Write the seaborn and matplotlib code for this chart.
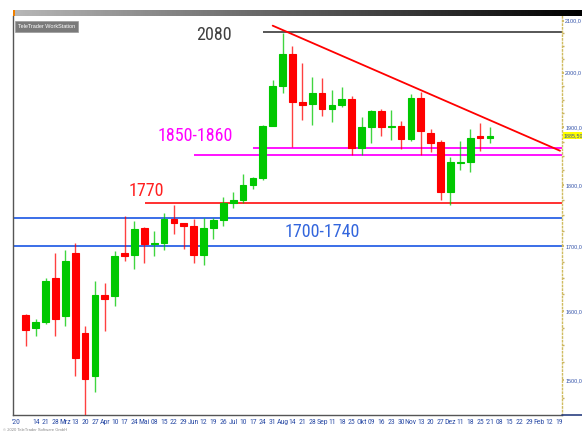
import numpy as np
import pandas as pd
import matplotlib
matplotlib.use("Agg")
import matplotlib.pyplot as plt
import matplotlib.ticker as mticker
import matplotlib.transforms as mtransforms
from matplotlib import font_manager
import seaborn as sns

# ---------------- data ----------------
week_idx = list(range(1, 49))
opens = [1594, 1574, 1584, 1650, 1593, 1690, 1567, 1505, 1624, 1622,
         1689, 1686, 1730, 1703, 1705, 1744, 1737, 1732, 1686, 1730,
         1743, 1771, 1775, 1801, 1812, 1903, 1976, 2035, 1946, 1943,
         1962, 1934, 1941, 1951, 1864, 1900, 1930, 1900, 1903, 1879,
         1953, 1890, 1875, 1789, 1838, 1840, 1885, 1882]
highs = [1595, 1588, 1650, 1690, 1694, 1705, 1577, 1646, 1642, 1692,
         1749, 1741, 1731, 1724, 1754, 1767, 1738, 1744, 1745, 1746,
         1780, 1789, 1819, 1814, 1904, 1986, 2076, 2051, 2018, 1992,
         1990, 1968, 1974, 1957, 1918, 1932, 1933, 1932, 1912, 1961,
         1965, 1897, 1878, 1849, 1876, 1897, 1908, 1900]
lows = [1549, 1563, 1580, 1563, 1577, 1506, 1452, 1483, 1571, 1607,
        1676, 1664, 1673, 1684, 1694, 1719, 1695, 1673, 1671, 1711,
        1732, 1762, 1771, 1793, 1809, 1902, 1963, 1865, 1914, 1904,
        1920, 1910, 1936, 1852, 1852, 1873, 1884, 1877, 1862, 1876,
        1852, 1856, 1776, 1767, 1825, 1822, 1859, 1872]
closes = [1572, 1584, 1645, 1588, 1676, 1531, 1501, 1624, 1618, 1684,
          1684, 1727, 1703, 1705, 1744, 1737, 1733, 1686, 1730, 1743,
          1771, 1775, 1801, 1812, 1903, 1976, 2035, 1946, 1941, 1962,
          1934, 1941, 1951, 1864, 1900, 1930, 1900, 1903, 1880, 1953,
          1893, 1873, 1789, 1840, 1840, 1881, 1881, 1885.5]

tick_labels = ["'20", "", "14", "21", "28", "Mrz", "13", "20", "27", "Apr",
               "10", "17", "24", "Mai", "08", "15", "22", "29", "Jun", "12",
               "19", "26", "Jul", "10", "17", "24", "31", "Aug", "14", "21",
               "28", "Sep", "11", "18", "25", "Okt", "09", "16", "23", "30",
               "Nov", "13", "20", "27", "Dez", "11", "18", "25", "'21", "08",
               "15", "22", "29", "Feb", "12", "19"]
price_ticks = [1500, 1600, 1700, 1800, 1900, 2000, 2100]

# support / resistance levels
level_top = 2077
level_zone_hi = 1863
level_zone_lo = 1851
level_mid = 1770
level_blue_hi = 1745
level_blue_lo = 1700
trend_x = [26, 55.1]
trend_y = [2090, 1859]
last_price = 1885.5

df = pd.DataFrame({"idx": week_idx, "open": opens, "high": highs,
                   "low": lows, "close": closes})
df["up"] = df["close"] >= df["open"]

# ---------------- style ----------------
sns.set_theme(style="white")
plt.rcParams["font.family"] = ["Liberation Sans", "DejaVu Sans"]

installed = {f.name for f in font_manager.fontManager.ttflist}
narrow = None
for cand in ["Liberation Sans Narrow", "DejaVu Sans Condensed", "Roboto Condensed", "Open Sans Condensed"]:
    if cand in installed:
        narrow = cand
        break
if narrow:
    label_font = dict(family=[narrow, "Liberation Sans"])
    big = 13
    small = 5.6
else:
    label_font = dict(family=["Liberation Sans"])
    big = 11
    small = 5

W, H = 582, 433
fig = plt.figure(figsize=(W / 100, H / 100), dpi=100)
fig.patch.set_facecolor("white")

x_left, x_right, y_top, y_bot = 13, 562, 16, 415
ax = fig.add_axes([x_left / W, (H - y_bot) / H, (x_right - x_left) / W, (y_bot - y_top) / H])
ax.set_facecolor("white")

GREEN = "#00c800"
RED = "#ff0000"

for up, sub in df.groupby("up"):
    col = GREEN if up else RED
    ax.vlines(sub["idx"], sub["low"], sub["high"], color=col, lw=1.0, alpha=0.75, zorder=3)
    bottoms = np.minimum(sub["open"], sub["close"])
    heights = np.abs(sub["close"] - sub["open"])
    ax.bar(sub["idx"], heights, bottom=bottoms, width=0.68, color=col,
           edgecolor=col, linewidth=0.8, zorder=4)

XMIN, XMAX = -0.3, 55.3
ax.set_xlim(XMIN, XMAX)
ax.set_yscale("log")
ax.set_ylim(1451.5, 2109)

# levels
ax.hlines(level_top, 25.0, XMAX, color="#3a3a3a", lw=1.2, zorder=2)
ax.hlines(level_zone_hi, 24.0, XMAX, color="#ff00ff", lw=1.3, zorder=2)
ax.hlines(level_zone_lo, 18.0, XMAX, color="#ff00ff", lw=1.3, zorder=2)
ax.hlines(level_mid, 13.1, XMAX, color="#ff3030", lw=1.4, zorder=2)
ax.hlines(level_blue_hi, XMIN, XMAX, color="#3a6ee8", lw=1.4, zorder=2)
ax.hlines(level_blue_lo, XMIN, XMAX, color="#3a6ee8", lw=1.4, zorder=2)
ax.plot(trend_x, trend_y, color="#ff0000", lw=1.3, zorder=5)

# level labels
ax.text(20.06, 2072, "2080", color="#404040", fontsize=big, ha="center", va="center", **label_font)
ax.text(18.2, 1884, "1850-1860", color="#ff00ff", fontsize=big, ha="center", va="center", **label_font)
ax.text(13.17, 1790, "1770", color="#ff2020", fontsize=big, ha="center", va="center", **label_font)
ax.text(31.0, 1723, "1700-1740", color="#3366dd", fontsize=big, ha="center", va="center", **label_font)

# axes / ticks
ax.set_xticks(range(len(tick_labels)))
ax.set_xticklabels(tick_labels, fontsize=small, color="#3050a8", **label_font)
ax.tick_params(axis="x", length=0, pad=3)

ax.yaxis.tick_right()
ax.yaxis.set_major_locator(mticker.FixedLocator(price_ticks))
ax.yaxis.set_major_formatter(mticker.FuncFormatter(lambda v, p: f"{v:.1f}".replace(".", ",")))
ax.yaxis.set_minor_locator(mticker.FixedLocator(list(range(1475, 2100, 25))))
ax.yaxis.set_minor_formatter(mticker.NullFormatter())
ax.tick_params(axis="y", which="major", labelsize=3.9, labelcolor="#3050a8",
               length=1.5, color="#c8b060", pad=0.8)
ax.tick_params(axis="y", which="minor", length=1.2, color="#c8b060", right=True)

ax.spines["top"].set_visible(False)
ax.spines["left"].set_color("#555555")
ax.spines["left"].set_linewidth(1.0)
ax.spines["bottom"].set_color("#555555")
ax.spines["bottom"].set_linewidth(1.0)
ax.spines["right"].set_color("#d0bc60")
ax.spines["right"].set_linestyle(":")
ax.spines["right"].set_linewidth(1.0)

# current price tag
trans = mtransforms.blended_transform_factory(ax.transAxes, ax.transData)
ax.text(1.003, last_price, f"{last_price:.2f}".replace(".", ","), transform=trans,
        fontsize=3.8, color="#3050a8", va="center", ha="left",
        bbox=dict(boxstyle="square,pad=0.12", fc="#ffff00", ec="none"), clip_on=False)

# header gradient bar
gax = fig.add_axes([x_left / W, (H - 16) / H, (W - x_left) / W, 6 / H])
grad = np.linspace(0.72, 0.0, 256)[None, :]
gax.imshow(grad, aspect="auto", cmap="gray", vmin=0, vmax=1)
gax.set_axis_off()
fig.patches.append(plt.Rectangle((x_left / W, (H - 16) / H), 2 / W, 6 / H,
                                 transform=fig.transFigure, fc="#f08000", ec="none"))

# watermark
fig.text(18 / W, (H - 26.5) / H, "TeleTrader WorkStation", fontsize=4, color="white",
         va="center", ha="left",
         bbox=dict(boxstyle="square,pad=0.5", fc="#7a7a7a", ec="#9a9a9a", lw=0.5))

# bottom-right axis line and footer
fig.add_artist(plt.Line2D([x_right / W, 1.0], [(H - y_bot) / H] * 2,
                          transform=fig.transFigure, color="#2a3f80", lw=1.2))
fig.text(3 / W, (H - 430) / H, "\u00a9 2020 TeleTrader Software GmbH", fontsize=3,
         color="#888888", va="center")

fig.savefig("out.png", dpi=100)
